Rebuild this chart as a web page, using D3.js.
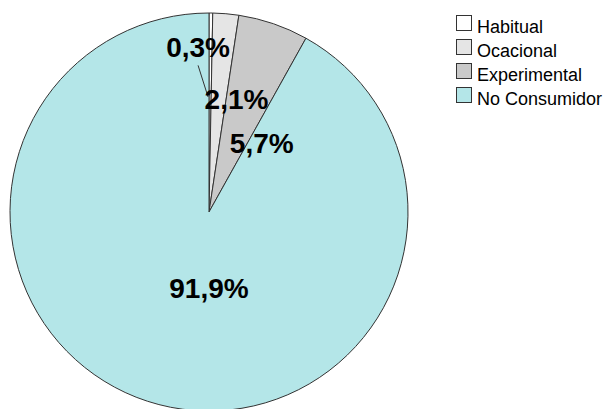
<!DOCTYPE html>
<html>
<head>
<meta charset="utf-8">
<script src="https://cdn.jsdelivr.net/npm/d3@7"></script>
<style>
	body { margin: 0; background: #fff; }
	svg { display: block; }
</style>
</head>
<body>
<svg id="piechart"></svg>
<script>
// data
const categories = ['Habitual', 'Ocacional', 'Experimental', 'No Consumidor'];
const values = [0.3, 2.1, 5.7, 91.9];
const labels = ['0,3%', '2,1%', '5,7%', '91,9%'];

const colors = ['#ffffff', '#e5e5e5', '#c9c9c9', '#b4e6e8'];

function makeChart() {
	let w = 608;
	let h = 409;
	let cx = 209, cy = 212;
	let radius = 199;

	let color = d3.scaleOrdinal().domain(categories).range(colors);

	let chart = d3.select('#piechart')
		.attr('width', w)
		.attr('height', h);

	let pie = d3.pie().sort(null).value(d => d.value);
	let arcs = pie(categories.map((c, i) => ({ name: c, value: values[i], label: labels[i] })));

	let arc = d3.arc().innerRadius(0).outerRadius(radius);

	let g = chart.append('g').attr('transform', `translate(${cx},${cy})`);

	g.selectAll('path')
		.data(arcs)
		.enter()
		.append('path')
		.attr('d', arc)
		.attr('fill', d => color(d.data.name))
		.attr('stroke', '#333')
		.attr('stroke-width', 1)
		.attr('stroke-linejoin', 'round');

	// label placement, polar (degrees clockwise from top, distance from centre)
	let labelPolar = [[-3.8, 165], [13.7, 116], [37.3, 87], [180, 76]];
	let polar = (a, r) => [r * Math.sin(a * Math.PI / 180), -r * Math.cos(a * Math.PI / 180)];

	// leader line for the thin slice
	let inner = d3.arc().innerRadius(115).outerRadius(115).centroid(arcs[0]);
	let lp = polar(labelPolar[0][0], labelPolar[0][1]);
	g.append('line')
		.attr('x1', lp[0]).attr('y1', lp[1] + 18)
		.attr('x2', inner[0] - 2).attr('y2', inner[1])
		.attr('stroke', '#333')
		.attr('stroke-width', 1);

	g.selectAll('text.lbl')
		.data(arcs)
		.enter()
		.append('text')
		.attr('class', 'lbl')
		.attr('transform', (d, i) => {
			let p = polar(labelPolar[i][0], labelPolar[i][1]);
			return `translate(${p[0]},${p[1] + 10})`;
		})
		.attr('text-anchor', 'middle')
		.attr('font-family', '"Liberation Sans", Arial, sans-serif')
		.attr('font-weight', 'bold')
		.attr('font-size', 28)
		.attr('fill', '#000')
		.text(d => d.data.label);

	//LEGEND
	let legend = chart.append('g')
		.attr('transform', 'translate(456,15)')
		.selectAll('g')
		.data(categories)
		.enter()
		.append('g')
		.attr('transform', (d, i) => `translate(0,${i * 24})`);

	legend.append('rect')
		.attr('x', 0.5).attr('y', 0.5)
		.attr('width', 15).attr('height', 15)
		.attr('fill', d => color(d))
		.attr('stroke', '#333')
		.attr('stroke-width', 1);

	legend.append('text')
		.attr('x', 21)
		.attr('y', 17.5)
		.attr('font-family', '"Liberation Sans", Arial, sans-serif')
		.attr('font-size', 18)
		.attr('fill', '#000')
		.text(d => d);
}

window.onload = function () {
	makeChart();
}
</script>
</body>
</html>
